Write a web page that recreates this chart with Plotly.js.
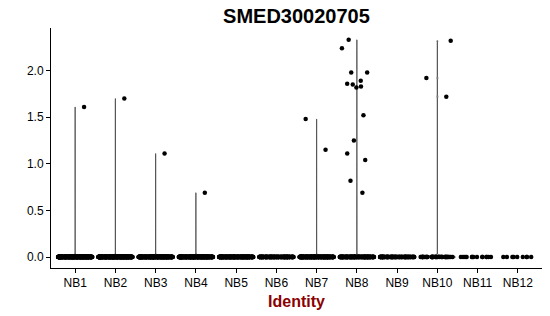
<!DOCTYPE html>
<html>
<head>
<meta charset="utf-8">
<script src="https://cdn.plot.ly/plotly-3.0.1.min.js"></script>
<style>html,body{margin:0;padding:0;background:#fff;}#chart{width:550px;height:316px;}</style>
</head>
<body>
<div id="chart"></div>
<script>
// Categories (cell identities)
var categories = ["NB1","NB2","NB3","NB4","NB5","NB6","NB7","NB8","NB9","NB10","NB11","NB12"];
// Estimated number of cells with zero expression per identity
var zeroCounts = [340, 340, 300, 300, 260, 160, 240, 180, 110, 40, 14, 9];
// Non-zero expression values per identity
var nb1 = [1.61];
var nb2 = [1.70];
var nb3 = [1.11];
var nb4 = [0.69];
var nb5 = [];
var nb6 = [];
var nb7 = [1.48, 1.15];
var nb8 = [2.33, 2.24, 1.98, 1.98, 1.83, 1.82, 1.85, 1.86, 1.89, 1.52, 1.25, 1.11, 1.04, 0.82, 0.69];
var nb9 = [];
var nb10 = [2.32, 1.92, 1.72];
var nb11 = [];
var nb12 = [];
var positives = [nb1, nb2, nb3, nb4, nb5, nb6, nb7, nb8, nb9, nb10, nb11, nb12];
var yTicks = [0, 0.5, 1.0, 1.5, 2.0];

function zerosOf(n) { var a = []; for (var k = 0; k < n; k++) a.push(0); return a; }
function catsFor(cat, arr) { return arr.map(function(){ return cat; }); }

var traces = [];
// violin outlines (only where the distribution has a spread)
categories.forEach(function(cat, i) {
  if (!positives[i].length) return;
  var ys = zerosOf(zeroCounts[i]).concat(positives[i]);
  traces.push({
    type: 'violin', x: catsFor(cat, ys), y: ys, name: cat,
    points: false, width: 0.9, bandwidth: 0.012, spanmode: 'hard', scalemode: 'width',
    fillcolor: 'rgba(0,0,0,0)', line: {color: '#222', width: 0.7},
    box: {visible: false}, meanline: {visible: false},
    hoverinfo: 'skip', showlegend: false
  });
});
// jittered points: zero cells and expressing cells
function pointTrace(cat, ys) {
  return {
    type: 'box', x: catsFor(cat, ys), y: ys, name: cat,
    boxpoints: 'all', jitter: 0.95, pointpos: 0, width: 0.9,
    fillcolor: 'rgba(0,0,0,0)', line: {color: 'rgba(0,0,0,0)', width: 0},
    whiskerwidth: 0,
    marker: {color: '#000', size: 4.5},
    hoverinfo: 'y', showlegend: false
  };
}
categories.forEach(function(cat, i) {
  traces.push(pointTrace(cat, zerosOf(zeroCounts[i])));
  if (positives[i].length) traces.push(pointTrace(cat, positives[i]));
});

var layout = {
  width: 550,
  height: 316,
  margin: {l: 51, r: 8, t: 28, b: 48},
  paper_bgcolor: '#fff',
  plot_bgcolor: '#fff',
  violinmode: 'overlay',
  boxmode: 'overlay',
  font: {family: 'Liberation Sans, Arial, sans-serif', color: '#000', size: 12},
  title: {
    text: '<b>SMED30020705</b>',
    font: {family: 'Liberation Sans, Arial, sans-serif', size: 20, color: '#000'},
    x: 0.539, xanchor: 'center', y: 0.95, yanchor: 'middle'
  },
  xaxis: {
    type: 'category',
    categoryorder: 'array',
    categoryarray: categories,
    range: [-0.6, 11.6],
    showline: true, linecolor: '#000', linewidth: 1,
    ticks: 'outside', ticklen: 4, tickcolor: '#000', tickwidth: 1,
    showgrid: false, zeroline: false,
    tickfont: {size: 12, color: '#000'},
    title: {text: '<b>Identity</b>', font: {size: 16, color: '#8B0000'}, standoff: 6}
  },
  yaxis: {
    range: [-0.117, 2.457],
    tickvals: yTicks,
    tickformat: '.1f',
    showline: true, linecolor: '#000', linewidth: 1,
    ticks: 'outside', ticklen: 4, tickcolor: '#000', tickwidth: 1,
    showgrid: false, zeroline: false,
    tickfont: {size: 12, color: '#000'}
  }
};

Plotly.newPlot('chart', traces, layout, {displayModeBar: false, staticPlot: true});
</script>
</body>
</html>
